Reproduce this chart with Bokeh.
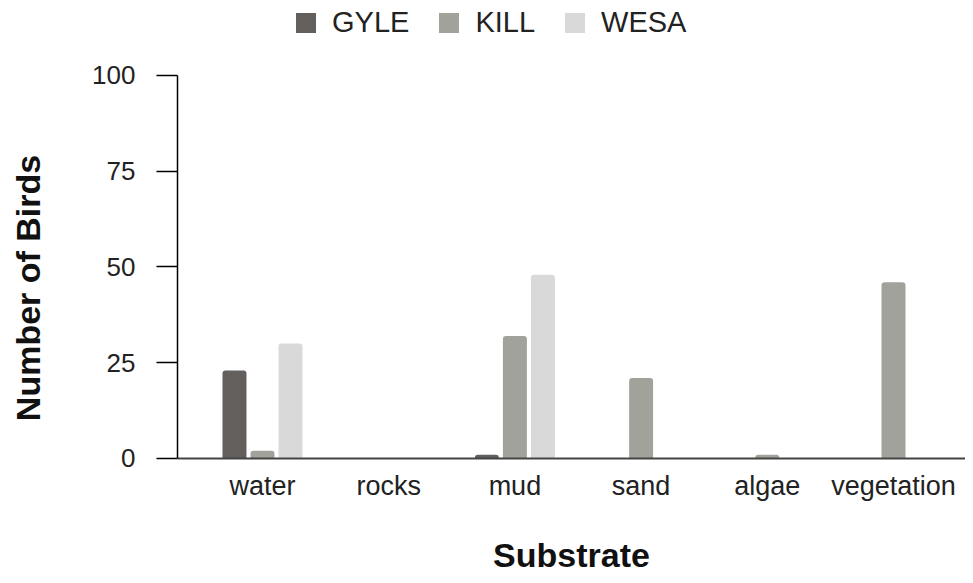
from bokeh.plotting import figure
from bokeh.models import ColumnDataSource, Range1d, FixedTicker, Legend, LegendItem
from bokeh.embed import file_html
from bokeh.resources import INLINE

categories = ["water", "rocks", "mud", "sand", "algae", "vegetation"]
series_names = ["GYLE", "KILL", "WESA"]
gyle = [23, 0, 1, 0, 0, 0]
kill = [2, 0, 32, 21, 1, 46]
wesa = [30, 0, 48, 0, 0, 0]
y_ticks = [0, 25, 50, 75, 100]

colors = ["#635f5c", "#a1a39b", "#d9d9d9"]
offsets = [-0.222, 0.0, 0.222]
FONT = "Liberation Sans"

W, H = 965, 575
p = figure(width=W, height=H, output_backend="svg", toolbar_location=None,
           x_range=Range1d(-0.6735, 5.5705), y_range=Range1d(-30.55, 119.58),
           min_border_left=177, min_border_right=0, min_border_top=0,
           min_border_bottom=0)
p.outline_line_color = None
p.xgrid.visible = False
p.ygrid.visible = False
p.background_fill_color = "white"
p.border_fill_color = "white"

idx = list(range(len(categories)))
items = []
for name, vals, col, off in zip(series_names, [gyle, kill, wesa], colors, offsets):
    src = ColumnDataSource(dict(x=[i + off for i in idx], top=vals))
    r = p.vbar(x="x", top="top", width=0.19, bottom=0, source=src,
               fill_color=col, line_color=None, border_radius=(3, 3, 0, 0))
    items.append(LegendItem(label=name, renderers=[r]))

legend = Legend(items=items, orientation="horizontal", location=(116, 536),
                glyph_width=25, glyph_height=25, label_standoff=14, spacing=27,
                label_text_font=FONT, label_text_font_size="29px",
                label_text_color="#222222", padding=0, margin=0,
                border_line_color=None, background_fill_alpha=0,
                label_height=20)
p.add_layout(legend, "center")

# y axis
p.yaxis.ticker = FixedTicker(ticks=y_ticks)
p.yaxis.bounds = (0, 100)
p.yaxis.axis_line_color = "black"
p.yaxis.axis_line_width = 1.5
p.yaxis.major_tick_line_color = "black"
p.yaxis.major_tick_line_width = 1.5
p.yaxis.major_tick_out = 21
p.yaxis.major_tick_in = 0
p.yaxis.minor_tick_line_color = None
p.yaxis.major_label_standoff = 21
p.yaxis.major_label_text_font = FONT
p.yaxis.major_label_text_font_size = "26px"
p.yaxis.major_label_text_color = "#222222"
p.yaxis.axis_label = "Number of Birds"
p.yaxis.axis_label_text_font = FONT
p.yaxis.axis_label_text_font_style = "bold"
p.yaxis.axis_label_text_font_size = "34px"
p.yaxis.axis_label_text_color = "#111111"
p.yaxis.axis_label_standoff = 42

# x axis, fixed at y = 0 inside the frame
p.xaxis.fixed_location = 0
p.xaxis.ticker = FixedTicker(ticks=idx)
p.xaxis.major_label_overrides = {i: c for i, c in zip(idx, categories)}
p.xaxis.axis_line_color = "#444444"
p.xaxis.axis_line_width = 2
p.xaxis.major_tick_line_color = None
p.xaxis.minor_tick_line_color = None
p.xaxis.major_label_standoff = 7
p.xaxis.major_label_text_font = FONT
p.xaxis.major_label_text_font_size = "27px"
p.xaxis.major_label_text_color = "#222222"
p.xaxis.axis_label = "Substrate"
p.xaxis.axis_label_text_font = FONT
p.xaxis.axis_label_text_font_style = "bold"
p.xaxis.axis_label_text_font_size = "34px"
p.xaxis.axis_label_text_color = "#111111"
p.xaxis.axis_label_standoff = 31

open("out.html", "w").write(file_html(p, INLINE))
